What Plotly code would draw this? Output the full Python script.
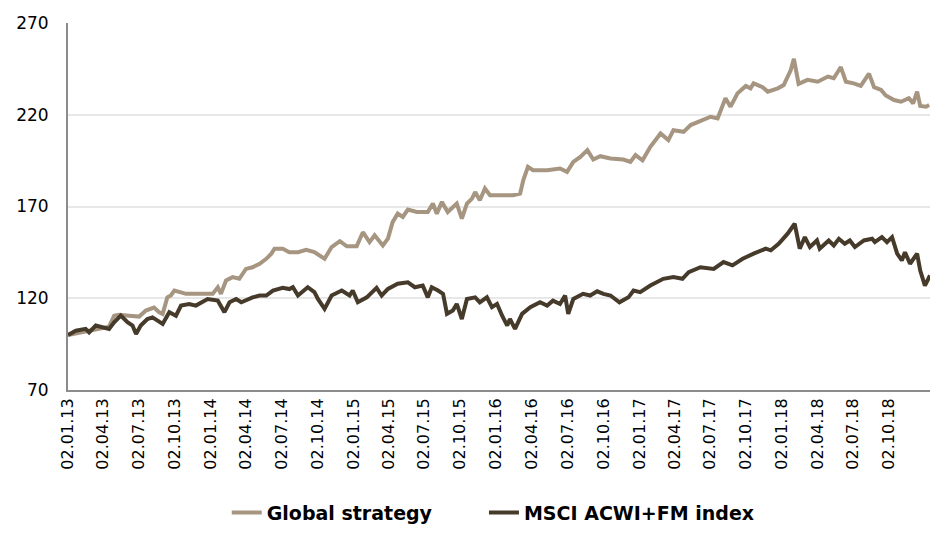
import plotly.graph_objects as go

# ---- Data ----
global_dates = [
    "2013-01-02", "2013-01-30", "2013-02-25", "2013-03-22", "2013-04-17", "2013-04-30", "2013-05-13",
    "2013-06-07", "2013-07-03", "2013-07-20", "2013-08-10", "2013-08-23", "2013-09-01", "2013-09-13",
    "2013-09-22", "2013-10-01", "2013-10-13", "2013-10-31", "2013-12-04", "2014-01-07", "2014-01-20",
    "2014-01-28", "2014-02-10", "2014-02-27", "2014-03-16", "2014-04-02", "2014-04-19", "2014-05-07",
    "2014-05-24", "2014-06-06", "2014-06-14", "2014-07-05", "2014-07-22", "2014-08-13", "2014-09-03",
    "2014-09-24", "2014-10-20", "2014-11-07", "2014-11-28", "2014-12-16", "2015-01-10", "2015-01-26",
    "2015-02-12", "2015-02-25", "2015-03-18", "2015-03-31", "2015-04-12", "2015-04-25", "2015-05-08",
    "2015-05-21", "2015-06-13", "2015-07-11", "2015-07-24", "2015-08-03", "2015-08-16", "2015-08-31",
    "2015-09-23", "2015-10-06", "2015-10-19", "2015-11-01", "2015-11-09", "2015-11-21", "2015-12-04",
    "2015-12-17", "2016-01-12", "2016-02-14", "2016-03-03", "2016-03-11", "2016-03-23", "2016-04-05",
    "2016-05-11", "2016-06-13", "2016-07-01", "2016-07-17", "2016-08-04", "2016-08-22", "2016-09-06",
    "2016-09-24", "2016-10-20", "2016-11-09", "2016-11-22", "2016-12-10", "2016-12-23", "2017-01-10",
    "2017-01-30", "2017-02-25", "2017-03-17", "2017-03-30", "2017-04-25", "2017-05-13", "2017-06-07",
    "2017-07-03", "2017-07-21", "2017-08-10", "2017-08-23", "2017-09-10", "2017-10-01", "2017-10-13",
    "2017-10-21", "2017-11-13", "2017-11-26", "2017-12-22", "2018-01-06", "2018-01-24", "2018-02-01",
    "2018-02-13", "2018-03-08", "2018-04-03", "2018-04-29", "2018-05-14", "2018-06-01", "2018-06-14",
    "2018-07-04", "2018-07-22", "2018-08-12", "2018-08-25", "2018-09-12", "2018-09-24", "2018-10-15",
    "2018-11-02", "2018-11-22", "2018-12-03", "2018-12-13", "2018-12-21", "2019-01-05", "2019-01-13",
]
global_values = [
    100.0, 101.4, 102.3, 103.3, 104.5, 110.5, 111.0,
    110.5, 110.0, 113.3, 114.9, 112.4, 111.5, 120.5,
    121.5, 124.2, 123.3, 122.4, 122.4, 122.4, 126.0,
    122.4, 129.7, 131.5, 130.6, 136.0, 136.9, 138.8,
    141.5, 144.3, 147.0, 147.0, 145.1, 145.1, 146.4,
    145.1, 141.5, 147.9, 151.1, 148.3, 148.3, 156.0,
    150.6, 154.3, 148.8, 152.5, 161.5, 166.1, 164.3,
    168.3, 167.0, 167.0, 171.6, 166.1, 172.5, 167.0,
    171.6, 163.4, 171.6, 174.3, 177.9, 173.4, 179.8,
    176.1, 176.1, 176.1, 177.0, 184.3, 191.6, 189.8,
    189.8, 190.7, 188.9, 194.3, 197.0, 200.7, 195.6,
    197.4, 196.2, 195.6, 195.6, 194.3, 198.0, 195.2,
    202.5, 209.8, 206.2, 211.6, 210.7, 214.4, 216.7,
    218.9, 218.0, 229.0, 224.4, 231.7, 235.7, 234.4,
    237.1, 235.0, 232.6, 234.4, 236.2, 244.4, 250.5,
    236.8, 239.0, 238.0, 240.8, 239.9, 246.0, 238.0,
    237.1, 235.7, 242.4, 235.0, 233.5, 230.5, 228.0,
    227.1, 229.0, 226.2, 232.6, 224.8, 224.4, 225.3,
]

msci_dates = [
    "2013-01-02", "2013-01-22", "2013-02-16", "2013-02-25", "2013-03-14", "2013-03-31", "2013-04-17",
    "2013-04-30", "2013-05-17", "2013-06-03", "2013-06-16", "2013-06-25", "2013-07-07", "2013-07-24",
    "2013-08-06", "2013-08-19", "2013-09-01", "2013-09-18", "2013-10-05", "2013-10-18", "2013-11-08",
    "2013-11-25", "2013-12-08", "2013-12-25", "2014-01-20", "2014-02-06", "2014-02-19", "2014-03-08",
    "2014-03-21", "2014-04-07", "2014-04-19", "2014-05-07", "2014-05-24", "2014-06-10", "2014-07-05",
    "2014-07-22", "2014-07-31", "2014-08-13", "2014-08-30", "2014-09-07", "2014-09-24", "2014-10-03",
    "2014-10-20", "2014-11-07", "2014-12-03", "2014-12-23", "2014-12-31", "2015-01-13", "2015-02-05",
    "2015-03-02", "2015-03-15", "2015-03-31", "2015-04-25", "2015-05-21", "2015-06-08", "2015-06-28",
    "2015-07-11", "2015-07-21", "2015-08-06", "2015-08-19", "2015-08-29", "2015-09-13", "2015-09-23",
    "2015-10-06", "2015-10-19", "2015-11-09", "2015-11-21", "2015-12-09", "2015-12-22", "2016-01-04",
    "2016-01-17", "2016-01-30", "2016-02-06", "2016-02-19", "2016-03-08", "2016-03-29", "2016-04-23",
    "2016-05-11", "2016-05-26", "2016-06-13", "2016-06-26", "2016-07-04", "2016-07-17", "2016-08-11",
    "2016-08-29", "2016-09-16", "2016-10-02", "2016-10-20", "2016-11-12", "2016-12-05", "2016-12-18",
    "2017-01-04", "2017-01-30", "2017-03-04", "2017-03-30", "2017-04-22", "2017-05-08", "2017-06-07",
    "2017-07-11", "2017-08-05", "2017-08-28", "2017-09-23", "2017-10-21", "2017-11-21", "2017-12-04",
    "2017-12-24", "2018-01-16", "2018-02-03", "2018-02-16", "2018-03-01", "2018-03-14", "2018-04-01",
    "2018-04-08", "2018-05-01", "2018-05-14", "2018-05-27", "2018-06-11", "2018-06-24", "2018-07-07",
    "2018-07-30", "2018-08-20", "2018-08-27", "2018-09-14", "2018-09-27", "2018-10-10", "2018-10-23",
    "2018-11-04", "2018-11-12", "2018-11-25", "2018-12-13", "2018-12-21", "2019-01-02", "2019-01-15",
]
msci_values = [
    100.0, 102.3, 103.3, 101.4, 105.1, 104.2, 103.3,
    106.9, 110.5, 106.9, 105.1, 100.5, 105.1, 108.7,
    109.6, 107.8, 106.0, 112.4, 110.5, 116.0, 116.9,
    116.0, 117.8, 119.6, 118.7, 112.4, 117.8, 119.6,
    117.8, 119.6, 120.5, 121.5, 121.5, 124.2, 125.7,
    125.0, 126.0, 121.5, 125.0, 126.0, 123.3, 119.6,
    114.2, 121.5, 124.2, 121.5, 124.2, 117.8, 120.5,
    125.7, 121.5, 125.1, 127.9, 128.7, 126.0, 126.9,
    120.5, 126.0, 124.2, 122.4, 111.5, 113.3, 116.9,
    108.7, 119.6, 120.5, 117.8, 120.5, 115.1, 116.9,
    110.5, 105.1, 108.7, 103.3, 111.5, 115.1, 117.8,
    116.0, 118.7, 116.9, 121.5, 111.5, 119.6, 122.4,
    121.5, 123.8, 122.4, 121.5, 117.8, 120.5, 124.2,
    123.3, 126.9, 130.6, 131.5, 130.6, 134.2, 136.9,
    136.0, 139.7, 137.9, 141.5, 144.3, 147.0, 146.1,
    149.7, 155.2, 160.6, 147.0, 153.3, 147.9, 151.5,
    147.0, 151.5, 148.8, 152.4, 149.7, 151.5, 147.9,
    151.5, 152.4, 150.6, 153.3, 150.6, 153.3, 144.3,
    140.6, 145.1, 138.8, 144.3, 135.1, 126.9, 132.4,
]

y_ticks = [70, 120, 170, 220, 270]
x_tick_dates = [
    "2013-01-02", "2013-04-02", "2013-07-02", "2013-10-02",
    "2014-01-02", "2014-04-02", "2014-07-02", "2014-10-02",
    "2015-01-02", "2015-04-02", "2015-07-02", "2015-10-02",
    "2016-01-02", "2016-04-02", "2016-07-02", "2016-10-02",
    "2017-01-02", "2017-04-02", "2017-07-02", "2017-10-02",
    "2018-01-02", "2018-04-02", "2018-07-02", "2018-10-02",
]
series_names = ["Global strategy", "MSCI ACWI+FM index"]

TAN = "#a69580"
DARK = "#463a2a"
FONT = "DejaVu Sans, Verdana, sans-serif"
legend_font = dict(family=FONT, size=19, weight="bold", color="black")

fig = go.Figure()
fig.add_trace(go.Scatter(x=global_dates, y=global_values, mode="lines",
                         name=series_names[0], line=dict(color=TAN, width=4),
                         legend="legend"))
fig.add_trace(go.Scatter(x=msci_dates, y=msci_values, mode="lines",
                         name=series_names[1], line=dict(color=DARK, width=4),
                         legend="legend2"))

fig.update_layout(
    width=937, height=534,
    margin=dict(l=68, r=7, t=23, b=144),
    paper_bgcolor="white", plot_bgcolor="white",
    font=dict(family=FONT, size=16, color="black"),
    showlegend=True,
    legend=dict(orientation="h", xref="container", yref="container",
                x=0.242, xanchor="left", y=0.04, yanchor="middle",
                font=legend_font),
    legend2=dict(orientation="h", xref="container", yref="container",
                 x=0.5165, xanchor="left", y=0.04, yanchor="middle",
                 font=legend_font),
)
fig.update_xaxes(
    type="date", range=[global_dates[0], "2019-01-15"],
    tickvals=x_tick_dates, tickformat="%d.%m.%y", tickangle=-90,
    showgrid=False, showline=True, linecolor="#8c8c8c", linewidth=2,
    ticks="", tickfont=dict(size=16), zeroline=False, automargin=False,
)
fig.update_yaxes(
    range=[70, 270], tickvals=y_ticks, showgrid=True, gridcolor="#e8e8e8", gridwidth=1.5,
    showline=True, linecolor="#8c8c8c", linewidth=2, ticks="", tickfont=dict(size=17),
    ticklabelstandoff=14, zeroline=False, automargin=False,
)

fig.write_html("out.html", config={"displayModeBar": False},
               post_script="document.body.style.margin='0';")
